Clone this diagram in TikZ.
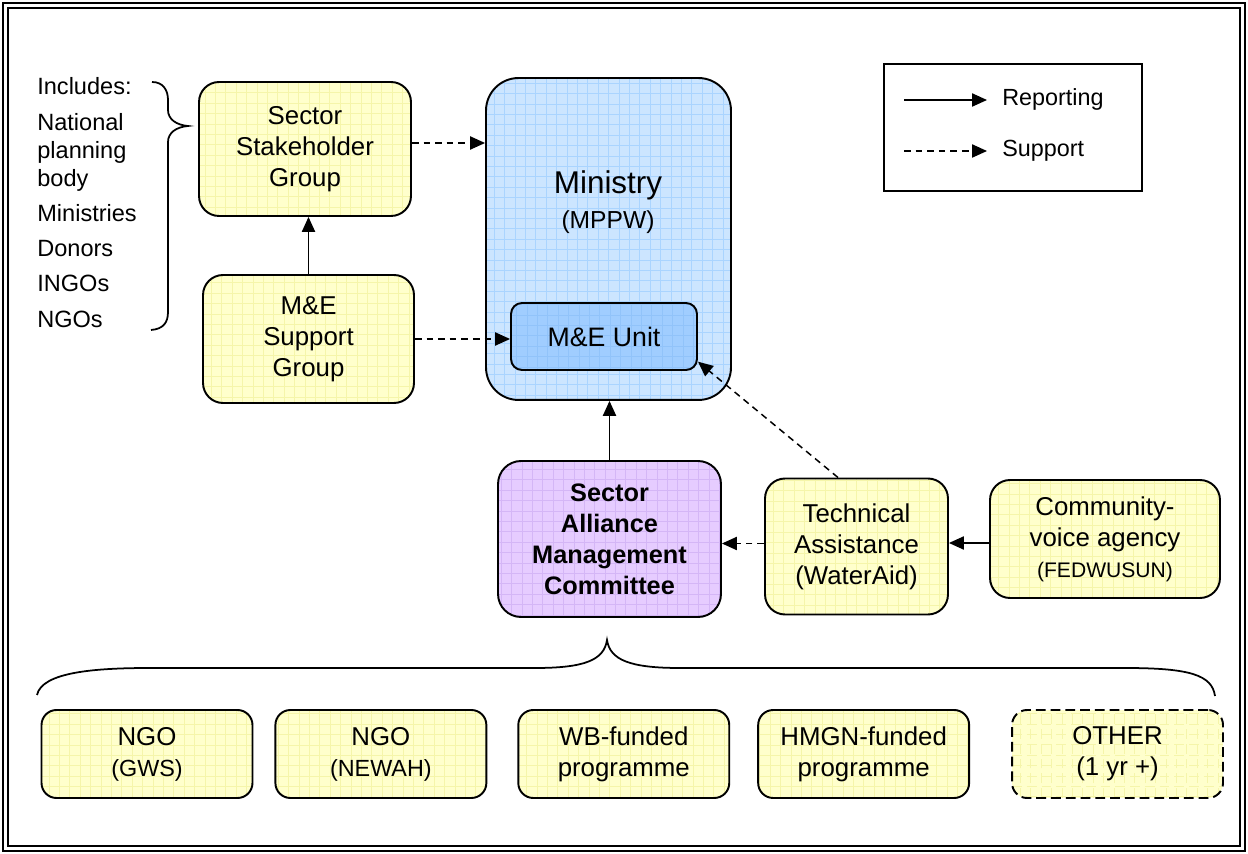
\documentclass[tikz,border=0pt]{standalone}
\usepackage{fontspec}
\setmainfont{Liberation Sans}
\usetikzlibrary{arrows.meta, positioning, calc}
\definecolor{yfill}{RGB}{255,255,204}
\definecolor{ygrid}{RGB}{245,245,170}
\definecolor{bfill}{RGB}{204,229,255}
\definecolor{bgrid}{RGB}{170,212,255}
\definecolor{ufill}{RGB}{160,205,255}
\definecolor{ugrid}{RGB}{145,195,250}
\definecolor{pfill}{RGB}{230,204,255}
\definecolor{pgrid}{RGB}{212,182,246}
\newcommand{\subfont}{\fontsize{13.3}{17.6}\selectfont}

\begin{document}
\begin{tikzpicture}[x=0.02cm, y=-0.02cm,
  grd/.style={path picture={\draw[#1, line width=0.3pt, step=0.208cm] (path picture bounding box.south west) grid (path picture bounding box.north east);}},
  box/.style={rectangle, rounded corners=0.4cm, draw=black, line width=1.1pt, align=center, inner sep=0pt, font=\fontsize{14.7}{17.6}\selectfont},
  ybox/.style={box, fill=yfill, grd=ygrid},
  botbox/.style={ybox, rounded corners=0.3cm, minimum width=4.22cm, minimum height=1.76cm},
  rep/.style={-{Triangle[length=8.5pt,width=7.5pt]}, line width=0.85pt},
  sup/.style={rep, dash pattern=on 3.8pt off 2.8pt},
  lst/.style={anchor=base west, inner sep=0pt, font=\fontsize{13.4}{15.9}\selectfont},
  brc/.style={line width=1pt}
]
\useasboundingbox (0,0) rectangle (1248,854);
% double frame
\draw[line width=1.4pt] (3,3) rectangle (1245,851);
\draw[line width=0.9pt] (8,8) rectangle (1240,846);

% stakeholder side
\node[ybox, minimum width=4.24cm, minimum height=2.68cm] (ssg) at (305,149) {Sector\\Stakeholder\\Group};
\node[ybox, minimum width=4.22cm, minimum height=2.56cm] (mesg) at (308.5,339) {M\&E\\Support\\Group};

% ministry
\node[box, rounded corners=0.65cm, fill=bfill, grd=bgrid, minimum width=4.9cm, minimum height=6.44cm] (min) at (608.5,239) {};
\node[font=\fontsize{17.9}{20}\selectfont] (mintitle) at (608,185) {Ministry};
\node[font=\fontsize{14}{17}\selectfont] (minsub) at (608,222) {(MPPW)};
\node[box, rounded corners=0.22cm, fill=ufill, grd=ugrid, minimum width=3.72cm, minimum height=1.34cm, font=\fontsize{15.2}{18}\selectfont] (meu) at (604,336.5) {M\&E Unit};

% committee and support agencies
\node[box, rounded corners=0.46cm, fill=pfill, grd=pgrid, minimum width=4.46cm, minimum height=3.12cm, font=\fontsize{14.4}{17.6}\selectfont\bfseries] (samc) at (609.5,539) {Sector\\Alliance\\Management\\Committee};
\node[ybox, minimum width=3.66cm, minimum height=2.72cm] (ta) at (856.5,546.5) {Technical\\Assistance\\(WaterAid)};
\node[ybox, minimum width=4.6cm, minimum height=2.36cm] (cva) at (1105,539) {Community-\\voice agency\\\fontsize{12}{17.6}\selectfont(FEDWUSUN)};

% programmes
\node[botbox] (ngo1) at (147,754) {NGO\\\subfont(GWS)};
\node[botbox, right=0.42cm of ngo1] (ngo2) {NGO\\\subfont(NEWAH)};
\node[botbox, right=0.6cm of ngo2] (wbp) {WB-funded\\programme};
\node[botbox, right=0.54cm of wbp] (hmgp) {HMGN-funded\\programme};
\node[botbox, right=0.82cm of hmgp, dash pattern=on 5.6pt off 2.8pt] (oth) {OTHER\\(1 yr +)};

% includes list
\foreach \txt/\y [count=\i] in {Includes:/95, National/131, planning/159, body/187, Ministries/222, Donors/257, INGOs/292, NGOs/328}
  \node[lst] (inc\i) at (37,\y) {\txt};

% braces
\draw[brc] (152,82) .. controls (163,82) and (168,90) .. (168,100) -- (168,110)
  .. controls (168,119) and (176,125) .. (188,126) .. controls (176,127) and (168,133) .. (168,142)
  -- (168,312) .. controls (168,323) and (163,329) .. (151,330);
\draw[brc] (37,695) .. controls (42,672) and (95,668) .. (150,668) -- (535,668)
  .. controls (585,668) and (604,660) .. (607,640) .. controls (610,660) and (630,668) .. (680,668)
  -- (1125,668) .. controls (1190,668) and (1212,675) .. (1215,696);

% legend
\node[draw, line width=1pt, minimum width=5.16cm, minimum height=2.54cm, inner sep=0pt] (legend) at (1013,127.5) {};
\coordinate (lgs1) at (904,100);
\coordinate (lge1) at (987,100);
\coordinate (lgs2) at (904,151);
\coordinate (lge2) at (987,151);
\draw[rep] (lgs1) -- (lge1);
\draw[sup] (lgs2) -- (lge2);
\node[anchor=west, inner sep=0pt, font=\fontsize{13.3}{16}\selectfont] (lgrep) at (1002,99) {Reporting};
\node[anchor=west, inner sep=0pt, font=\fontsize{13.3}{16}\selectfont] (lgsup) at (1002,151) {Support};

% connectors
\draw[sup] ($(ssg.east)+(0,-6)$) -- ($(ssg.east -| min.west)+(0,-6)$);
\draw[rep] (mesg.north) -- (mesg.north |- ssg.south);
\draw[sup] (mesg.east) -- (mesg.east -| meu.west);
\draw[rep] (samc.north) -- (samc.north |- min.south);
\draw[sup] (ta.105) -- (meu.-15);
\draw[sup] ($(ta.west)+(0,-3)$) -- ($(ta.west -| samc.east)+(0,-3)$);
\draw[rep] ($(cva.west)+(0,4)$) -- ($(cva.west -| ta.east)+(0,4)$);
\end{tikzpicture}
\end{document}
